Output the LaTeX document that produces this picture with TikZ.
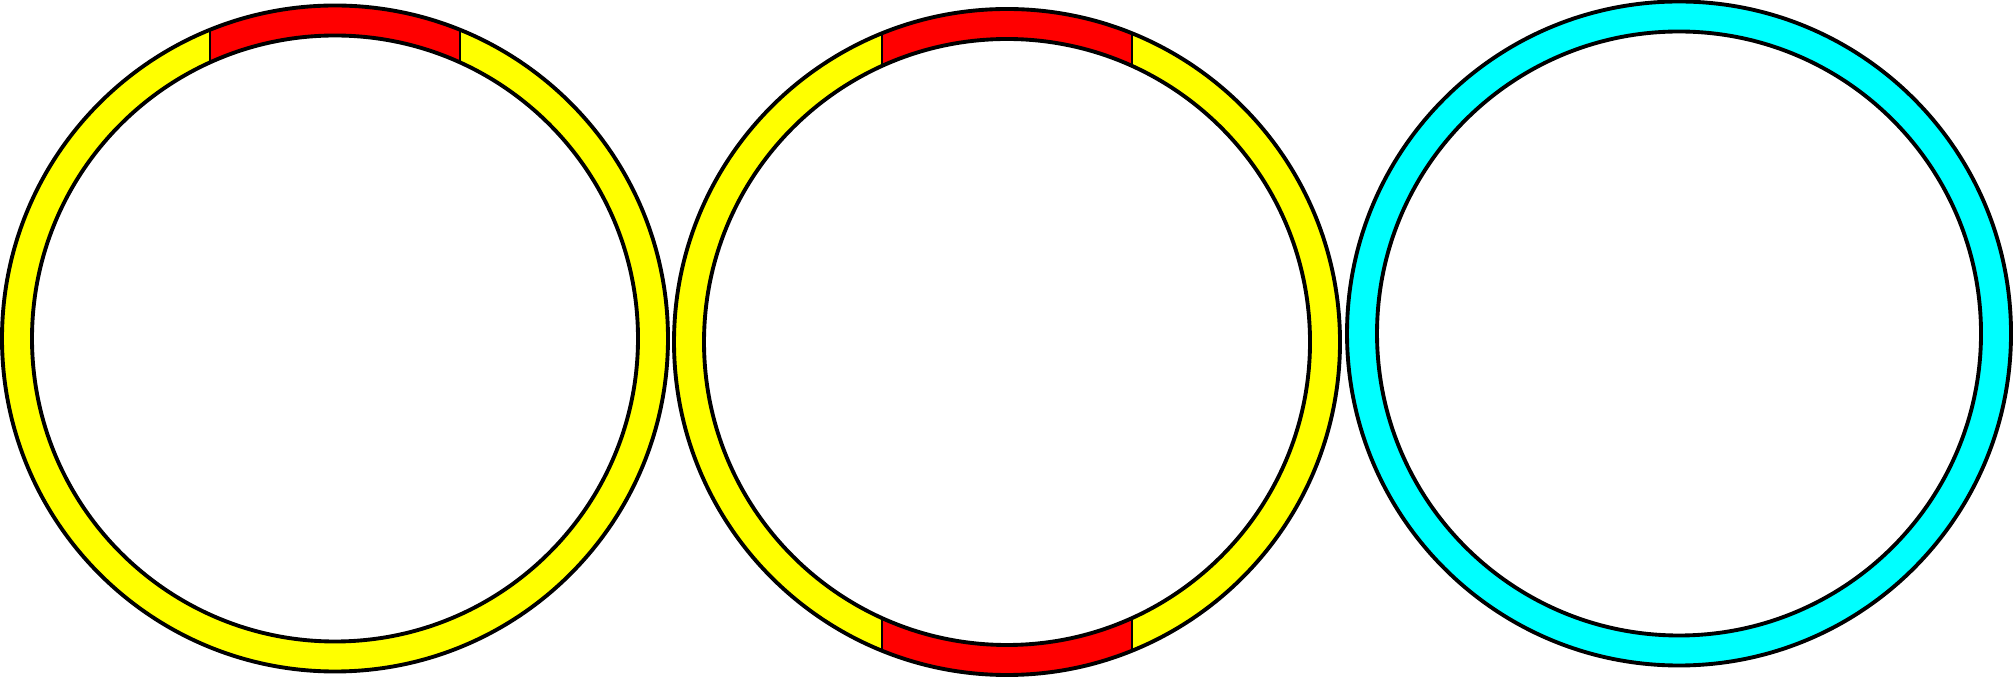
\documentclass[tikz,border=0pt]{standalone}
\usetikzlibrary{calc}
\definecolor{ringyellow}{RGB}{255,255,0}
\definecolor{ringred}{RGB}{255,0,0}
\definecolor{ringcyan}{RGB}{0,255,255}

\begin{document}
\begin{tikzpicture}[
  x=0.01cm, y=0.01cm,
  rim/.style={draw=black, line width=1.1pt},
  cut/.style={draw=black, line width=0.8pt},
  band/.style={fill=#1, even odd rule}
]
  \useasboundingbox (0,0) rectangle (2016,679);
  \def\rout{333}
  \def\rin{303}

  % centres
  \coordinate (c1) at (335,340.5);
  \coordinate (c2) at (1007,337);
  \coordinate (c3) at (1679,345.5);

  % Ring 1: yellow, red on top
  \fill[band=ringyellow] (c1) circle (\rout) (c1) circle (\rin);
  \begin{scope}[even odd rule]
    \clip (c1) circle (\rout) (c1) circle (\rin);
    \fill[ringred] ($(c1)+(-125,0)$) rectangle ($(c1)+(125,\rout)$);
  \end{scope}
  \draw[cut] ($(c1)+(-125,276)$) -- ($(c1)+(-125,308.6)$);
  \draw[cut] ($(c1)+(125,276)$) -- ($(c1)+(125,308.6)$);
  \draw[rim] (c1) circle (\rout);
  \draw[rim] (c1) circle (\rin);

  % Ring 2: yellow, red on top and bottom
  \fill[band=ringyellow] (c2) circle (\rout) (c2) circle (\rin);
  \begin{scope}[even odd rule]
    \clip (c2) circle (\rout) (c2) circle (\rin);
    \fill[ringred] ($(c2)+(-125,-\rout)$) rectangle ($(c2)+(125,\rout)$);
  \end{scope}
  \foreach \s in {-1,1} {
    \draw[cut] ($(c2)+(-125,\s*276)$) -- ($(c2)+(-125,\s*308.6)$);
    \draw[cut] ($(c2)+(125,\s*276)$) -- ($(c2)+(125,\s*308.6)$);
  }
  \draw[rim] (c2) circle (\rout);
  \draw[rim] (c2) circle (\rin);

  % Ring 3: cyan
  \fill[band=ringcyan] (c3) circle (332) (c3) circle (302);
  \draw[rim] (c3) circle (332);
  \draw[rim] (c3) circle (302);
\end{tikzpicture}
\end{document}
